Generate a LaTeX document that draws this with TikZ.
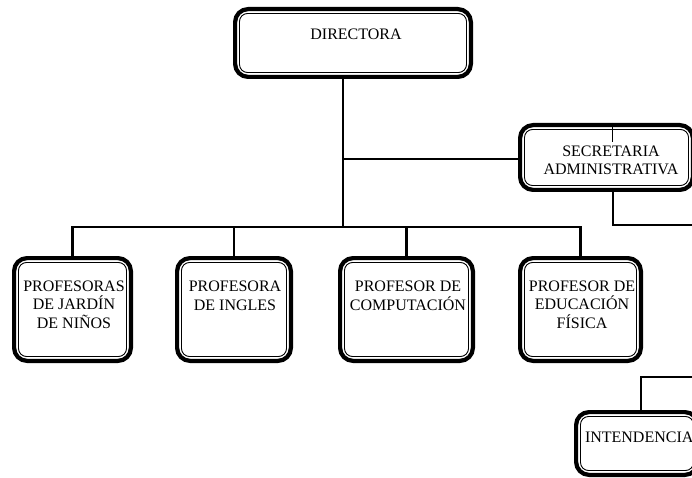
\documentclass[tikz,border=0pt]{standalone}
\usepackage{fontspec}
\setmainfont{Liberation Serif}
\begin{document}
\begin{tikzpicture}[x=1pt,y=-1pt,
  boxshape/.style={rectangle, draw=none, inner sep=0pt, outer sep=0pt},
  outerline/.style={line width=4.2pt, rounded corners=13pt, draw=black},
  innerline/.style={line width=0.9pt, rounded corners=8pt, draw=black},
  conn/.style={line width=2.8pt, draw=black},
  thinconn/.style={line width=0.8pt, draw=black},
  txt/.style={inner sep=0pt, outer sep=0pt, align=center, anchor=base,
    font=\fontsize{16}{18.2}\selectfont}]
\useasboundingbox (0,0) rectangle (692,478);
\clip (0,0) rectangle (692,478);
\fill[white] (0,0) rectangle (692,478);
% boxes
\node[boxshape, minimum width=240pt, minimum height=72pt] (dir) at (353,43) {};
\node[boxshape, minimum width=177pt, minimum height=69pt] (sec) at (606.5,157.5) {};
\node[boxshape, minimum width=121pt, minimum height=107pt] (p1) at (72.5,309.5) {};
\node[boxshape, minimum width=118pt, minimum height=107pt] (p2) at (234,309.5) {};
\node[boxshape, minimum width=137pt, minimum height=107pt] (p3) at (406.5,309.5) {};
\node[boxshape, minimum width=125pt, minimum height=107pt] (p4) at (580.5,309.5) {};
\node[boxshape, minimum width=126pt, minimum height=67pt] (int) at (637,443.5) {};
\foreach \n in {dir,sec,p1,p2,p3,p4,int}{
  \draw[outerline] ([shift={(2.1,2.1)}]\n.north west) rectangle ([shift={(-2.1,-2.1)}]\n.south east);
  \draw[innerline] ([shift={(6.5,6.5)}]\n.north west) rectangle ([shift={(-6.5,-6.5)}]\n.south east);
}
% texts (base anchor = baseline of the last line)
\node[txt] (dirt) at (356,40) {DIRECTORA};
\node[txt] (sect) at (611,175) {SECRETARIA\\ADMINISTRATIVA};
\node[txt] (p1t) at (74,328) {PROFESORAS\\DE JARDÍN\\DE NIÑOS};
\node[txt] (p2t) at (235,310) {PROFESORA\\DE INGLES};
\node[txt] (p3t) at (408,310) {PROFESOR DE\\COMPUTACIÓN};
\node[txt] (p4t) at (582,328) {PROFESOR DE\\EDUCACIÓN\\FÍSICA};
\node[txt, anchor=base west] (intt) at (585,442) {INTENDENCIA};
% connectors
\coordinate (bus) at (343,227);
\coordinate (secdrop) at (613,225);
\coordinate (intup) at (641,377);
\coordinate (edgeR) at (700,0);
\coordinate (secmark) at (612,142);
\draw[conn] (dir.south -| bus) -- (bus);
\draw[conn] (bus |- 0,159) -- (sec.west |- 0,159);
\draw[conn] (p1.north) -- (p1.north |- bus) -- (p4.north |- bus) -- (p4.north);
\draw[conn] (p2.north) -- (p2.north |- bus);
\draw[conn] (p3.north) -- (p3.north |- bus);
\draw[conn] (sec.south -| secdrop) -- (secdrop) -- (secdrop -| edgeR);
\draw[conn] (int.north -| intup) -- (intup) -- (intup -| edgeR);
\draw[thinconn] (sec.north -| secmark) -- (secmark);
\end{tikzpicture}
\end{document}
